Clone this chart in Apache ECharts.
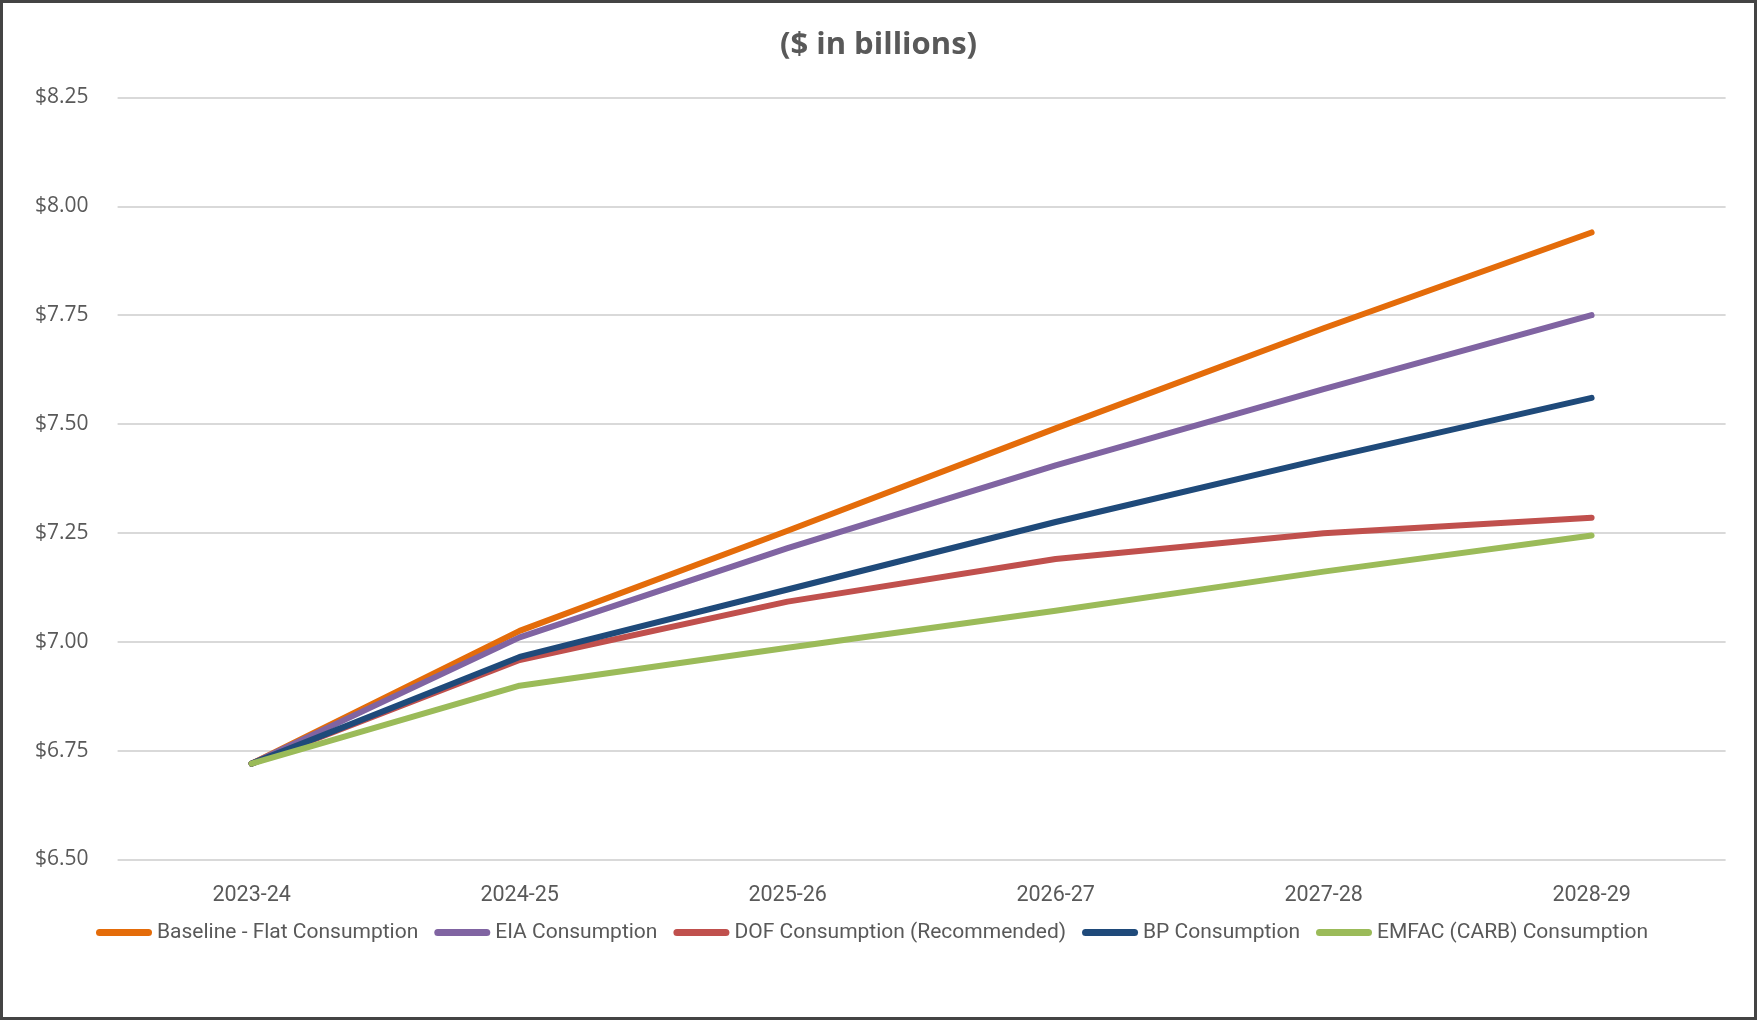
<!DOCTYPE html>
<html>
<head>
<meta charset="utf-8">
<script src="https://cdn.jsdelivr.net/npm/echarts@6/dist/echarts.min.js"></script>
<style>
html,body{margin:0;padding:0;background:#fff;}
#wrap{position:relative;width:1757px;height:1020px;}
#chart{width:1757px;height:1020px;}
#frame{position:absolute;left:0;top:0;width:1757px;height:1020px;box-sizing:border-box;border:3px solid #444;pointer-events:none;}
</style>
</head>
<body>
<div id="wrap"><div id="chart"></div><div id="frame"></div></div>
<script>
const categories = ['2023-24','2024-25','2025-26','2026-27','2027-28','2028-29'];
const baseline = [6.72, 7.025, 7.255, 7.49, 7.72, 7.94];
const eia = [6.72, 7.01, 7.215, 7.405, 7.58, 7.75];
const dof = [6.72, 6.958, 7.092, 7.19, 7.249, 7.285];
const bp = [6.72, 6.965, 7.12, 7.275, 7.42, 7.56];
const emfac = [6.72, 6.899, 6.986, 7.071, 7.161, 7.244];
const seriesNames = ['Baseline - Flat Consumption','EIA Consumption','DOF Consumption (Recommended)','BP Consumption','EMFAC (CARB) Consumption'];
const seriesData = [baseline, eia, dof, bp, emfac];
const colors = ['#E46C0A','#8064A2','#C0504D','#1F4A7A','#9BBB59'];
const yTicks = {min: 6.5, max: 8.25, interval: 0.25};

const chart = echarts.init(document.getElementById('chart'));
chart.setOption({
  animation: false,
  title: {
    text: '($ in billions)', left: 'center', top: 25,
    textStyle: {fontFamily: 'Open Sans', fontWeight: 'bold', fontSize: 31, color: '#595959'}
  },
  legend: {
    data: seriesNames, left: 91, top: 917, itemWidth: 56, itemHeight: 7, itemGap: 16,
    icon: 'path://M3.5,0 L52.5,0 A3.5,3.5 0 0 1 52.5,7 L3.5,7 A3.5,3.5 0 0 1 3.5,0 Z',
    textStyle: {fontFamily: 'Roboto, sans-serif', fontSize: 21, color: '#595959'}
  },
  grid: {left: 117.6, right: 1757 - 1725.6, top: 97.5, bottom: 1020 - 859.4, containLabel: false},
  xAxis: {
    type: 'category', data: categories, boundaryGap: true,
    axisLine: {show: false}, axisTick: {show: false},
    axisLabel: {margin: 25, fontFamily: 'Roboto, sans-serif', fontSize: 21.5, color: '#595959'}
  },
  yAxis: {
    type: 'value', min: yTicks.min, max: yTicks.max, interval: yTicks.interval,
    axisLine: {show: false}, axisTick: {show: false},
    splitLine: {lineStyle: {color: '#D9D9D9', width: 2}},
    axisLabel: {margin: 29, fontFamily: 'Open Sans', fontSize: 21, color: '#595959',
      formatter: v => '$' + v.toFixed(2)}
  },
  series: seriesData.map((d, i) => ({
    name: seriesNames[i], type: 'line', data: d, symbol: 'none',
    lineStyle: {width: 6, color: colors[i], cap: 'round', join: 'round'},
    itemStyle: {color: colors[i]}
  }))
});
</script>
</body>
</html>
